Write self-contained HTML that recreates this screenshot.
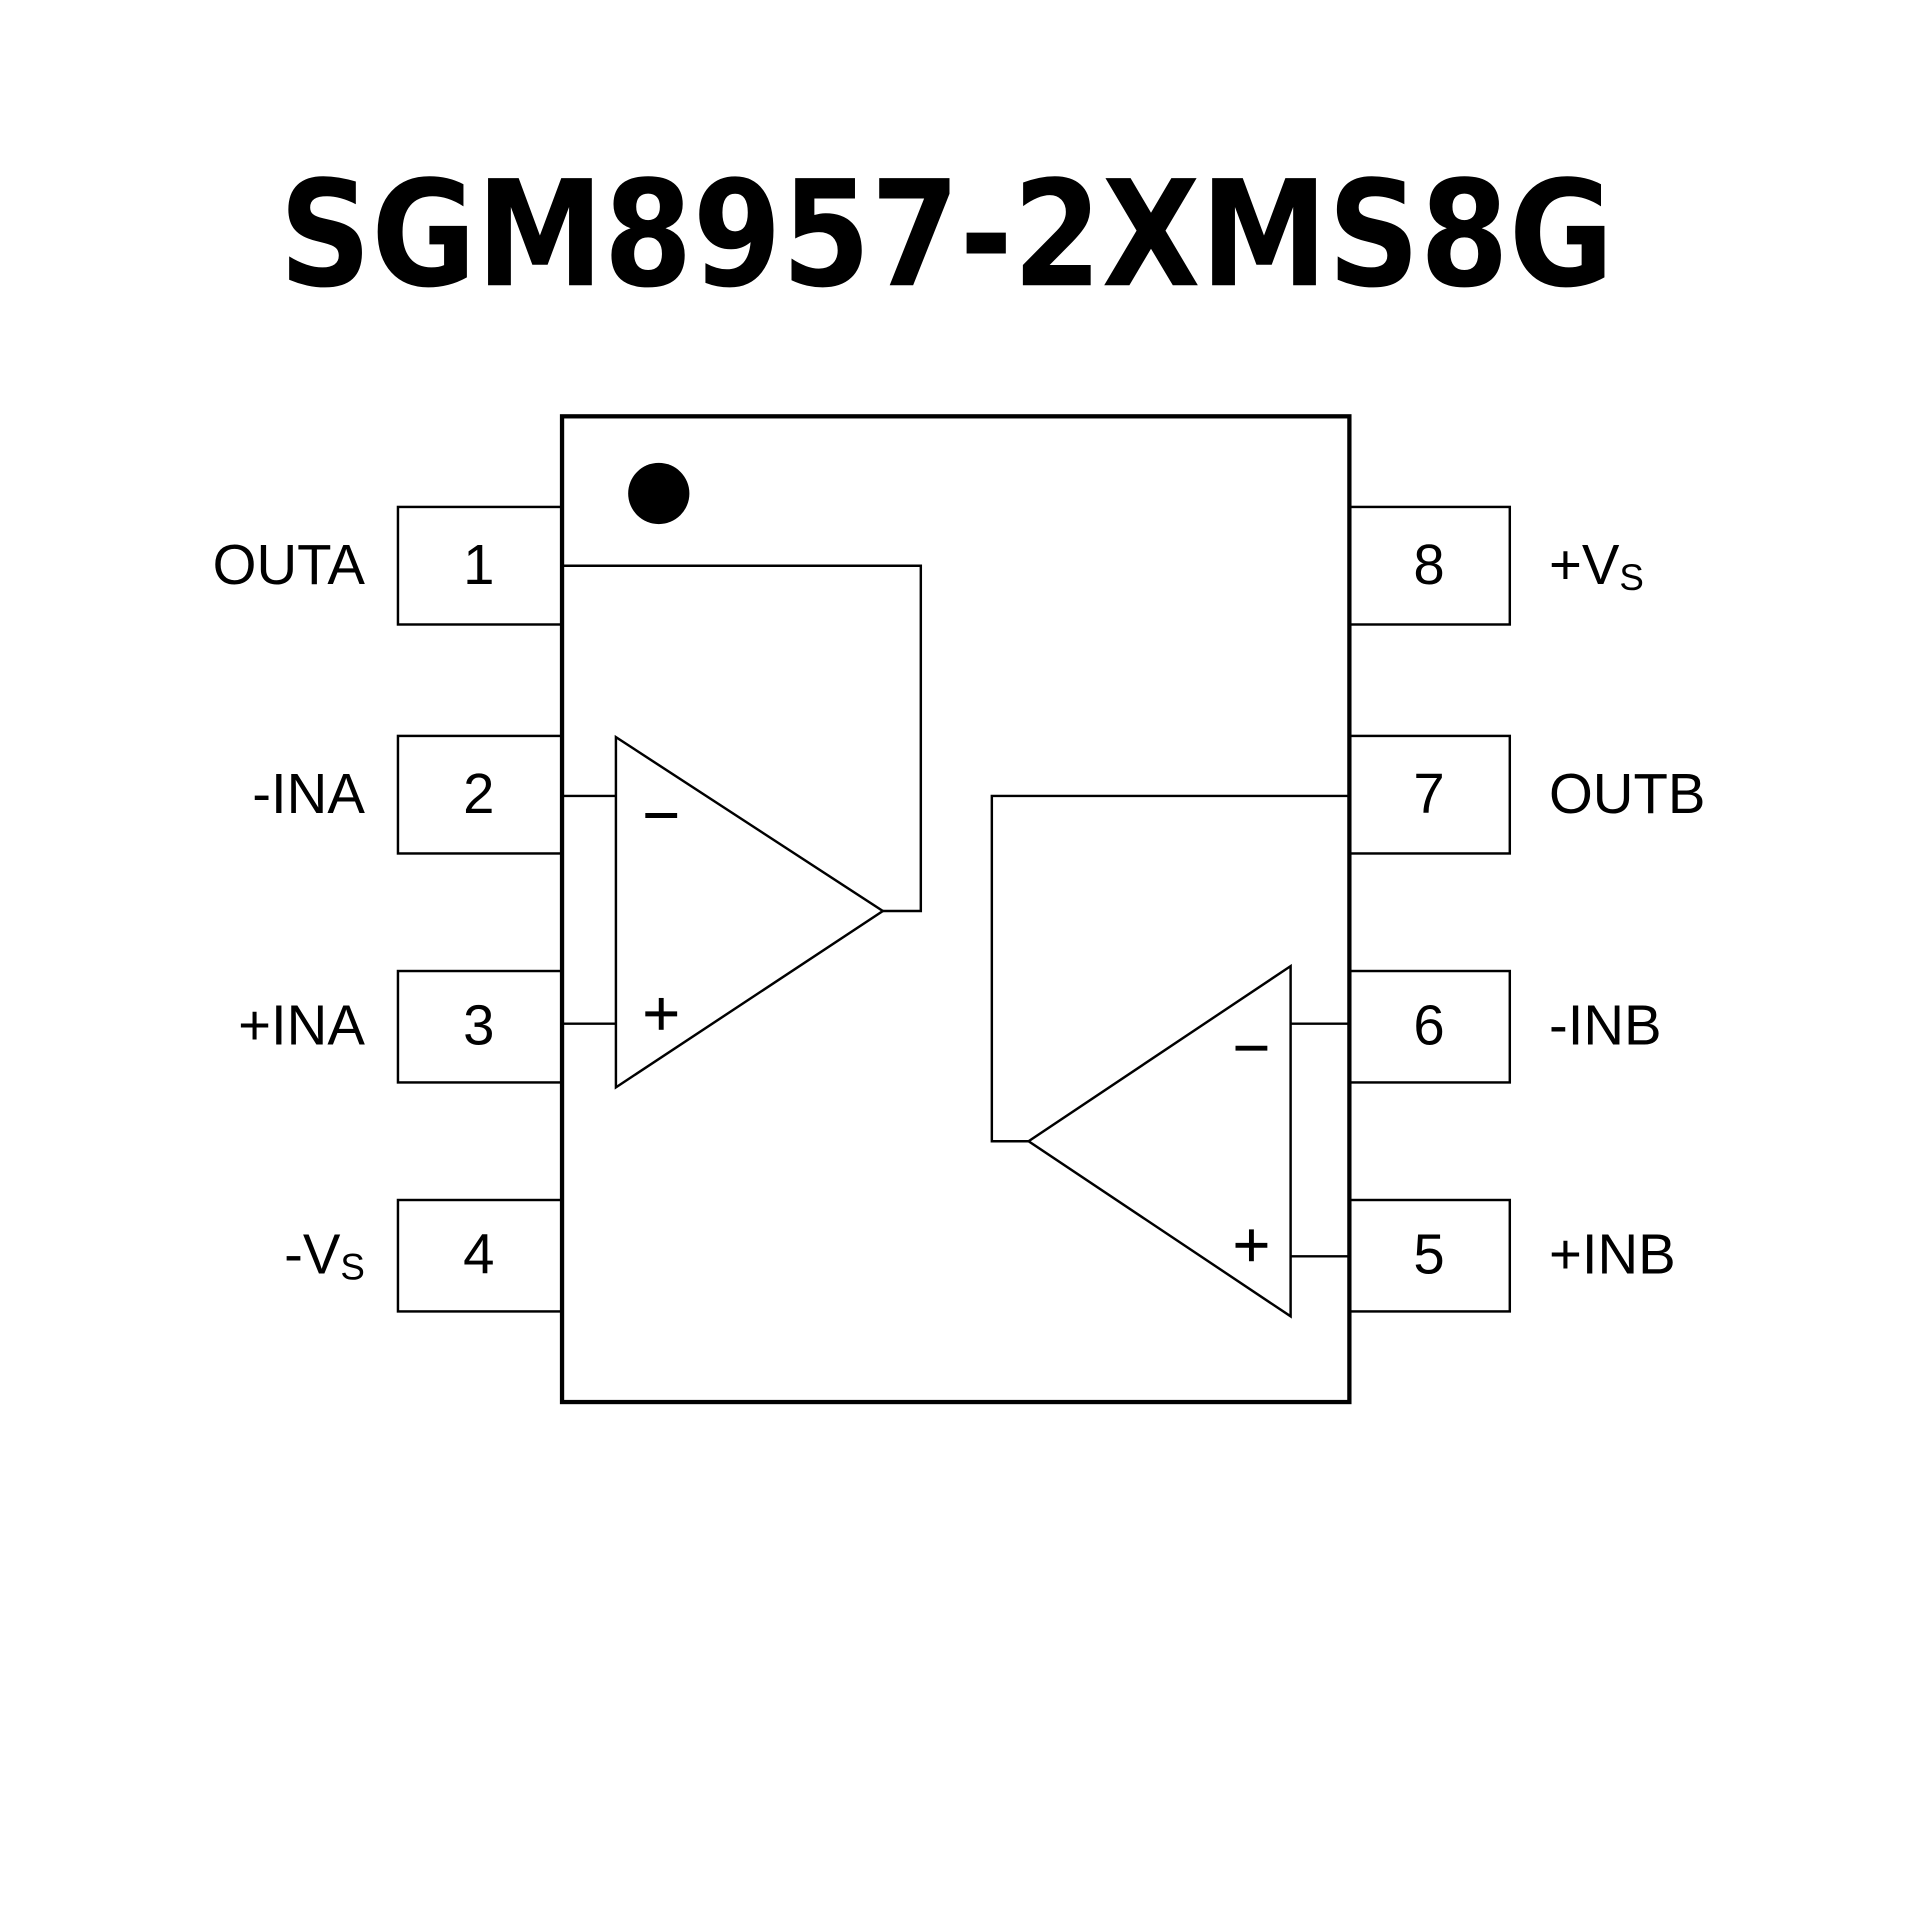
<!DOCTYPE html>
<html><head><meta charset="utf-8"><style>
html,body{margin:0;padding:0;background:#fff;}
svg{display:block;}
</style></head><body>
<svg width="1920" height="1920" viewBox="0 0 1568 1568" xmlns="http://www.w3.org/2000/svg">
<rect width="1568" height="1568" fill="#fff"/>
<text x="773" y="233" text-anchor="middle" font-family="DejaVu Sans, Liberation Sans, sans-serif" font-weight="bold" font-size="120" textLength="1090" lengthAdjust="spacingAndGlyphs" fill="#000">SGM8957-2XMS8G</text>
<g fill="none" stroke="#000">
<rect x="459" y="340" width="643" height="805" stroke-width="3.5"/>
<g stroke-width="2">
<rect x="325" y="414" width="134" height="96"/>
<rect x="325" y="601" width="134" height="96"/>
<rect x="325" y="793" width="134" height="91"/>
<rect x="325" y="980" width="134" height="91"/>
<rect x="1102" y="414" width="131" height="96"/>
<rect x="1102" y="601" width="131" height="96"/>
<rect x="1102" y="793" width="131" height="91"/>
<rect x="1102" y="980" width="131" height="91"/>
<polygon points="503,602 503,888 721,744"/>
<polyline points="459,650 503,650"/>
<polyline points="459,836 503,836"/>
<polyline points="721,744 752,744 752,462 459,462"/>
<polygon points="1054,789 1054,1075 840,932"/>
<polyline points="1054,836 1102,836"/>
<polyline points="1054,1026 1102,1026"/>
<polyline points="840,932 810,932 810,650 1102,650"/>
</g>
<g stroke-width="4">
<line x1="527" y1="666" x2="553" y2="666"/>
<line x1="527" y1="828" x2="553" y2="828"/><line x1="540" y1="815" x2="540" y2="841"/>
<line x1="1009" y1="856" x2="1035" y2="856"/>
<line x1="1009" y1="1017" x2="1035" y2="1017"/><line x1="1022" y1="1004" x2="1022" y2="1030"/>
</g>
</g>
<circle cx="538" cy="403" r="25" fill="#000"/>
<g font-family="Liberation Sans, sans-serif" font-size="46" fill="#000">
<g text-anchor="middle">
<text x="391" y="477">1</text><text x="391" y="664">2</text><text x="391" y="853">3</text><text x="391" y="1040">4</text>
<text x="1167" y="477">8</text><text x="1167" y="664">7</text><text x="1167" y="853">6</text><text x="1167" y="1040">5</text>
</g>
<g text-anchor="end">
<text x="298" y="477">OUTA</text><text x="298" y="664">-INA</text><text x="298" y="853">+INA</text>
<text x="298" y="1040">-V<tspan font-size="30" dy="5">S</tspan></text>
</g>
<text x="1265" y="477">+V<tspan font-size="30" dy="5">S</tspan></text>
<text x="1265" y="664">OUTB</text><text x="1265" y="853">-INB</text><text x="1265" y="1040">+INB</text>
</g>
</svg>
</body></html>
